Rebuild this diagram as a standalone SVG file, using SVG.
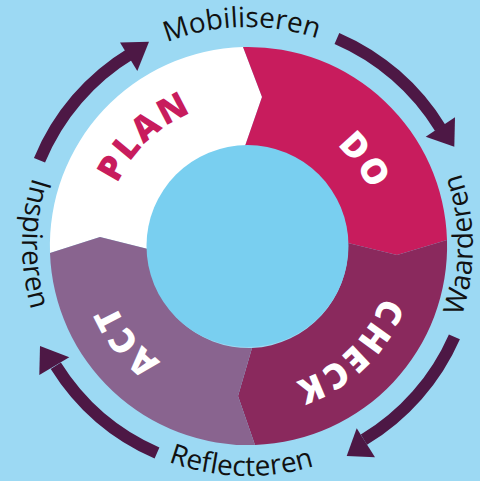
<svg xmlns="http://www.w3.org/2000/svg" width="480" height="481" viewBox="0 0 480 481">
<defs>
<style>
.seg{stroke:none}
.ring{font-family:"Open Sans","Noto Sans",sans-serif;font-weight:800;font-size:35px;letter-spacing:2.5px}
.lbl{font-family:"Open Sans","Noto Sans",sans-serif;font-size:28px;fill:#111}
.shaft{fill:none;stroke:#4d1845;stroke-width:12}
.head{fill:#4d1845}
</style>
<path id="pPlan" d="M131.2 322.1 A138 138 0 0 1 330.8 134.7"/>
<path id="pDo" d="M166.4 134.4 A138 138 0 0 1 328.6 357.6"/>
<path id="pCheck" d="M362.7 168.3 A138 138 0 0 1 165.8 358.5"/>
<path id="pAct" d="M312.8 368.7 A138 138 0 0 1 144.2 153.0"/>
<path id="pMob" d="M30.9 213.6 A219 219 0 0 1 462.1 202.3"/>
<path id="pWaa" d="M288.2 467.8 A225.5 225.5 0 0 0 285.1 23.7"/>
<path id="pIns" d="M210.7 23.5 A225.5 225.5 0 0 0 206.0 467.6"/>
<path id="pRef" d="M20.0 279.6 A230 230 0 0 0 472.8 292.3"/>
</defs>
<rect x="0" y="0" width="480" height="481" fill="#9cd9f3"/>
<g id="plan">
<path class="seg" fill="#ffffff" d="M50 253 A199 199 0 0 1 243 47 L262 97 L245 146 A101 101 0 0 0 148 249 L100 237 Z"/>
<text class="ring" fill="#c81c5d"><textPath href="#pPlan" startOffset="50%" text-anchor="middle">PLAN</textPath></text>
</g>
<g id="do">
<path class="seg" fill="#c81c5d" d="M243 47 A199 199 0 0 1 447 240 L397 255 L348 243 A101 101 0 0 0 245 146 L262 97 Z"/>
<text class="ring" fill="#ffffff"><textPath href="#pDo" startOffset="50%" text-anchor="middle">DO</textPath></text>
</g>
<g id="check">
<path class="seg" fill="#8a295d" d="M447 240 A199 199 0 0 1 255 445 L238 396 L252 348 A101 101 0 0 0 348 243 L397 255 Z"/>
<text class="ring" fill="#ffffff"><textPath href="#pCheck" startOffset="50%" text-anchor="middle">CHECK</textPath></text>
</g>
<g id="act">
<path class="seg" fill="#89648f" d="M255 445 A199 199 0 0 1 50 253 L100 237 L148 249 A101 101 0 0 0 252 348 L238 396 Z"/>
<text class="ring" fill="#ffffff"><textPath href="#pAct" startOffset="50%" text-anchor="middle">ACT</textPath></text>
</g>
<g id="center">
<circle cx="247.5" cy="246" r="101" fill="#79cff0"/>
</g>
<g id="connectors">
<path class="shaft" d="M39.5 160.3 A225 225 0 0 1 131.6 53.1"/>
<polygon class="head" points="120,42.5 149,41.7 137.3,71"/>
<path class="shaft" d="M336.9 38.4 A226 226 0 0 1 440.2 127.9"/>
<polygon class="head" points="425.7,136.7 455,117.3 454.3,146.7"/>
<path class="shaft" d="M454.4 336.8 A226 226 0 0 1 363.9 439.7"/>
<polygon class="head" points="356.7,428.3 375,457.3 346.7,456"/>
<path class="shaft" d="M157 453.1 A226 226 0 0 1 55.8 365.8"/>
<polygon class="head" points="69.3,357.3 39.3,375 40,346"/>
</g>
<g id="labels">
<text class="lbl"><textPath href="#pMob" startOffset="50%" text-anchor="middle">Mobiliseren</textPath></text>
<text class="lbl"><textPath href="#pWaa" startOffset="50%" text-anchor="middle">Waarderen</textPath></text>
<text class="lbl"><textPath href="#pIns" startOffset="50%" text-anchor="middle">Inspireren</textPath></text>
<text class="lbl"><textPath href="#pRef" startOffset="50%" text-anchor="middle">Reflecteren</textPath></text>
</g>
</svg>
